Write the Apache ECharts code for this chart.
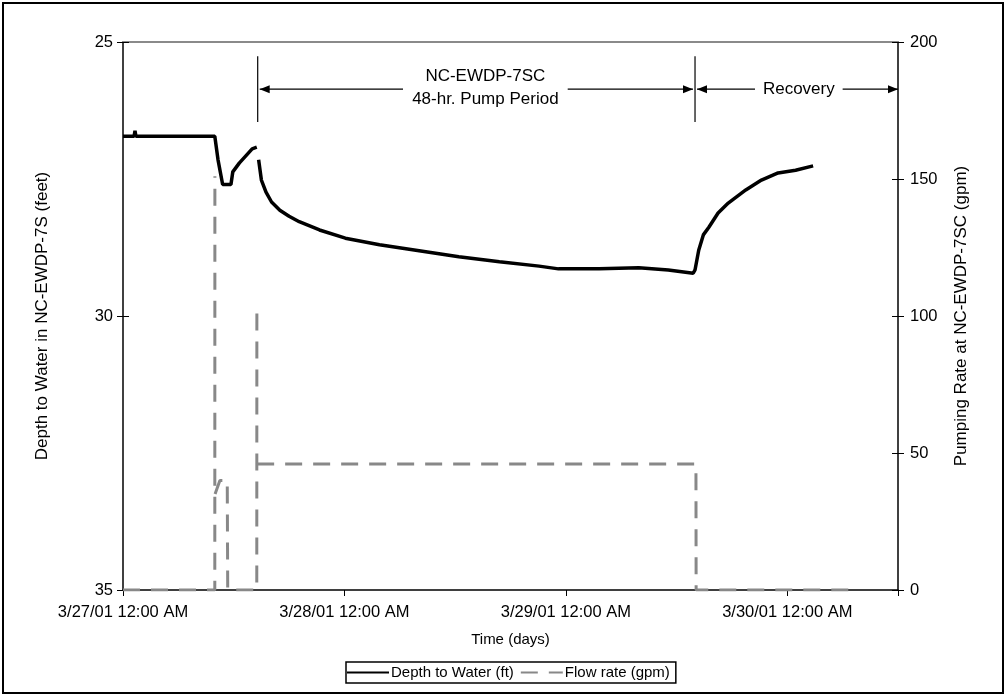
<!DOCTYPE html>
<html>
<head>
<meta charset="utf-8">
<script src="https://cdn.jsdelivr.net/npm/echarts@6/dist/echarts.min.js"></script>
<style>
  html, body { margin: 0; padding: 0; background: #fff; }
  #chart { width: 1006px; height: 696px; }
</style>
</head>
<body>
<div id="chart"></div>
<script>
// x values are hours after 3/27/01 12:00 AM
var dayLabels = ['3/27/01 12:00 AM', '3/28/01 12:00 AM', '3/29/01 12:00 AM', '3/30/01 12:00 AM'];

// depth to water in NC-EWDP-7S (ft)
var depthData = [
  [0, 26.72], [1.2, 26.72], [1.3, 26.62], [1.4, 26.72], [9.95, 26.72],
  [10.3, 27.15], [10.8, 27.6], [11.7, 27.6], [11.9, 27.37], [12.6, 27.21],
  [14.0, 26.95], [14.5, 26.92], [14.6, null],
  [14.7, 27.15], [15.0, 27.52], [15.5, 27.74], [16.1, 27.92], [17.0, 28.07],
  [18.0, 28.18], [19.1, 28.28], [21.3, 28.43], [24.1, 28.58], [27.8, 28.70],
  [32.1, 28.81], [36.4, 28.92], [40.8, 29.01], [45.1, 29.09], [47.2, 29.14],
  [51.6, 29.14], [55.9, 29.12], [59.1, 29.16], [61.8, 29.22], [62.0, 29.16],
  [62.4, 28.80], [62.9, 28.52], [63.5, 28.38], [64.5, 28.12], [65.6, 27.94],
  [67.5, 27.70], [69.2, 27.52], [71.0, 27.39], [72.9, 27.34], [74.8, 27.26]
];

// pumping rate at NC-EWDP-7SC (gpm); the falls after each spike run back over
// the rise, so they are left out (null) to keep the dash pattern readable
var flowData = [
  [0, 0], [9.95, 0], [9.96, 151], [9.97, null],
  [9.98, 35], [10.5, 40], [11.3, 40], [11.35, 0], [14.5, 0], [14.51, 101], [14.52, null],
  [14.54, 46], [62.1, 46], [62.12, 0], [79.7, 0]
];

// annotation: pump / recovery periods (hours) and label gaps
var pumpStart = 14.6, pumpEnd = 62.0, recoveryEnd = 84;
var pumpGap = [30.35, 48.2], recoveryGap = [68.5, 78.0];
var annotDepth = [25.26, 25.86, 26.46]; // top of marker, arrow row, bottom of marker

var font = 'Liberation Sans, Arial, sans-serif';
var chart = echarts.init(document.getElementById('chart'));

var gridBox = { left: 123, right: 108, top: 42, bottom: 106 };

// axes on a twin grid that only draw the inner half of the cross-shaped ticks
function innerTicks(base) {
  return Object.assign({
    type: 'value', gridIndex: 1, axisLine: { show: false }, axisLabel: { show: false },
    axisTick: { show: true, inside: true, length: 6, lineStyle: { color: '#000' } },
    splitLine: { show: false }
  }, base);
}

var option = {
  animation: false,
  backgroundColor: '#fff',
  grid: [Object.assign({}, gridBox), Object.assign({}, gridBox)],
  legend: {
    left: 346, top: 662,
    padding: [3, 6, 3, 0],
    borderColor: '#000', borderWidth: 1.5,
    itemWidth: 42, itemHeight: 14, itemGap: 6,
    itemStyle: { opacity: 0 },
    textStyle: { fontFamily: font, fontSize: 15, color: '#000', padding: [0, 0, 0, -3] },
    data: ['Depth to Water (ft)', 'Flow rate (gpm)']
  },
  xAxis: [{
    type: 'value', min: 0, max: 84, interval: 24,
    name: 'Time (days)', nameLocation: 'middle', nameGap: 42,
    nameTextStyle: { fontFamily: font, fontSize: 15, color: '#000' },
    axisLine: { onZero: false, lineStyle: { color: '#000', width: 1.5 } },
    axisTick: { length: 6, lineStyle: { color: '#000' } },
    axisLabel: {
      margin: 14, fontFamily: font, fontSize: 16.5, color: '#000',
      formatter: function (v) { return dayLabels[v / 24] || ''; }
    },
    splitLine: { show: false }
  }, {
    type: 'value', gridIndex: 1, min: 0, max: 84, position: 'top',
    axisLine: { onZero: false, lineStyle: { color: '#8a8a8a', width: 2 } },
    axisTick: { show: false }, axisLabel: { show: false }, splitLine: { show: false }
  }],
  yAxis: [{
    type: 'value', min: 25, max: 35, interval: 5, inverse: true,
    name: 'Depth to Water in NC-EWDP-7S (feet)', nameLocation: 'middle',
    nameGap: 72, nameRotate: 90,
    nameTextStyle: { fontFamily: font, fontSize: 17, color: '#000' },
    axisLine: { onZero: false, lineStyle: { color: '#000', width: 1.5 } },
    axisTick: { length: 6, lineStyle: { color: '#000' } },
    axisLabel: { margin: 10, fontFamily: font, fontSize: 16.5, color: '#000' },
    splitLine: { show: false }
  }, {
    type: 'value', min: 0, max: 200, interval: 50, position: 'right',
    name: 'Pumping Rate at NC-EWDP-7SC (gpm)', nameLocation: 'middle',
    nameGap: 55, nameRotate: 90,
    nameTextStyle: { fontFamily: font, fontSize: 17, color: '#000' },
    axisLine: { show: true, onZero: false, lineStyle: { color: '#000', width: 1.5 } },
    axisTick: { show: true, length: 6, lineStyle: { color: '#000' } },
    axisLabel: { margin: 12, fontFamily: font, fontSize: 16.5, color: '#000' },
    splitLine: { show: false }
  },
  innerTicks({ min: 25, max: 35, interval: 5, inverse: true, position: 'left' }),
  innerTicks({ min: 0, max: 200, interval: 50, position: 'right' })
  ],
  series: [{
    name: 'Depth to Water (ft)', type: 'line', xAxisIndex: 0, yAxisIndex: 0,
    data: depthData, symbol: 'none', connectNulls: false, z: 3,
    lineStyle: { color: '#000', width: 3.5 },
    itemStyle: { color: '#000' }
  }, {
    name: 'Flow rate (gpm)', type: 'line', xAxisIndex: 0, yAxisIndex: 1,
    data: flowData, symbol: 'none', connectNulls: false, z: 2,
    lineStyle: { color: '#888', width: 3, type: [17, 11] },
    itemStyle: { color: '#888' }
  }]
};
chart.setOption(option);

function px(h, d) {
  return chart.convertToPixel({ xAxisIndex: 0, yAxisIndex: 0 }, [h, d]);
}

function arrowHead(tip, dir) {
  // dir -1: points left, 1: points right
  return {
    type: 'polygon',
    shape: { points: [[tip[0], tip[1]], [tip[0] - dir * 10, tip[1] - 4], [tip[0] - dir * 10, tip[1] + 4]] },
    style: { fill: '#000' }
  };
}

function seg(a, b) {
  return { type: 'line', shape: { x1: a[0], y1: a[1], x2: b[0], y2: b[1] }, style: { stroke: '#000', lineWidth: 1.2 } };
}

function drawAnnotations() {
  var els = [];
  [pumpStart, pumpEnd].forEach(function (h) {
    els.push(seg(px(h, annotDepth[0]), px(h, annotDepth[2])));
  });
  var y = px(0, annotDepth[1])[1];
  var sL = px(pumpStart, annotDepth[1]), sR = px(pumpEnd, annotDepth[1]);
  var a = [sL[0] + 2, y], b = [px(pumpGap[0], 0)[0], y];
  var c = [px(pumpGap[1], 0)[0], y], d = [sR[0] - 2, y];
  els.push(seg(a, b), arrowHead(a, -1), seg(c, d), arrowHead(d, 1));
  var e = [sR[0] + 2, y], f = [px(recoveryGap[0], 0)[0], y];
  var g = [px(recoveryGap[1], 0)[0], y], k = [px(recoveryEnd, 0)[0], y];
  els.push(seg(e, f), arrowHead(e, -1), seg(g, k), arrowHead(k, 1));
  els.push({
    type: 'text', x: (b[0] + c[0]) / 2, y: y - 1,
    style: { text: 'NC-EWDP-7SC\n48-hr. Pump Period', fontFamily: font, fontSize: 17, lineHeight: 23, fill: '#000', align: 'center', verticalAlign: 'middle' }
  });
  els.push({
    type: 'text', x: (f[0] + g[0]) / 2, y: y,
    style: { text: 'Recovery', fontFamily: font, fontSize: 17, fill: '#000', align: 'center', verticalAlign: 'middle' }
  });
  // outer frame
  els.push({ type: 'rect', shape: { x: 3, y: 3, width: 1000, height: 690 }, style: { fill: 'none', stroke: '#000', lineWidth: 2 } });
  chart.setOption({ graphic: [{ type: 'group', id: 'annot', children: els }] }, { replaceMerge: ['graphic'] });
}
drawAnnotations();

window.addEventListener('resize', function () {
  chart.resize();
  drawAnnotations();
});
</script>
</body>
</html>
